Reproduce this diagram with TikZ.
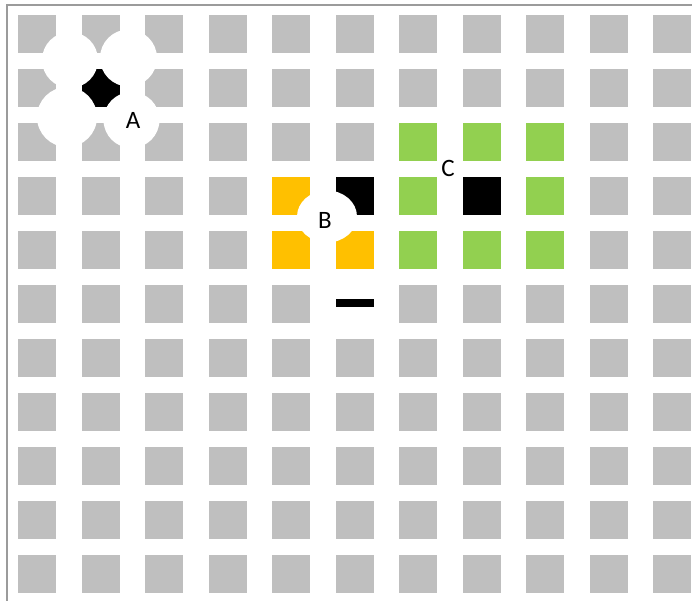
\documentclass[tikz,border=0pt]{standalone}
\usepackage{fontspec}
\setmainfont{Carlito}
\definecolor{cellgray}{RGB}{191,191,191}
\definecolor{cellorange}{RGB}{255,192,0}
\definecolor{cellgreen}{RGB}{146,208,80}
\definecolor{framegray}{RGB}{155,155,155}
\newcommand\cellat[3]{\fill[#1] ({18+63.5*#2},{15+54*#3}) rectangle ++(38,38);}
\begin{document}
\begin{tikzpicture}[x=1pt,y=-1pt,
  lbl/.style={font=\fontsize{25}{30}\selectfont, text=black, inner sep=0pt},
  blob/.style={fill=white}]
\useasboundingbox (0,0) rectangle (692,601);
% grid of gray cells
\foreach \c in {0,...,10}{
  \foreach \r in {0,...,10}{
    \cellat{cellgray}{\c}{\r}
  }
}
% region A
\cellat{black}{1}{1}
\fill[blob] (70,60) circle[radius=28pt];
\fill[blob] (128.5,58) circle[radius=28.5pt];
\fill[blob] (67,117) circle[radius=30pt];
\fill[blob] (131.5,120) circle[radius=28pt];
% region B
\cellat{cellorange}{4}{3}
\cellat{black}{5}{3}
\cellat{cellorange}{4}{4}
\cellat{cellorange}{5}{4}
\fill[blob] (327,216.5) ellipse[x radius=30pt, y radius=26pt];
% removed cell with bar
\cellat{white}{5}{5}
\fill[black] (335.5,299) rectangle (373.5,307);
% region C
\cellat{cellgreen}{6}{2}
\cellat{cellgreen}{7}{2}
\cellat{cellgreen}{8}{2}
\cellat{cellgreen}{6}{3}
\cellat{black}{7}{3}
\cellat{cellgreen}{8}{3}
\cellat{cellgreen}{6}{4}
\cellat{cellgreen}{7}{4}
\cellat{cellgreen}{8}{4}
% labels
\node[lbl] (labelA) at (133,120.5) {A};
\node[lbl] (labelB) at (325,220.5) {B};
\node[lbl] (labelC) at (448,168) {C};
% frame
\draw[framegray, line width=2pt] (7,601) -- (7,5) -- (692,5);
\end{tikzpicture}
\end{document}
